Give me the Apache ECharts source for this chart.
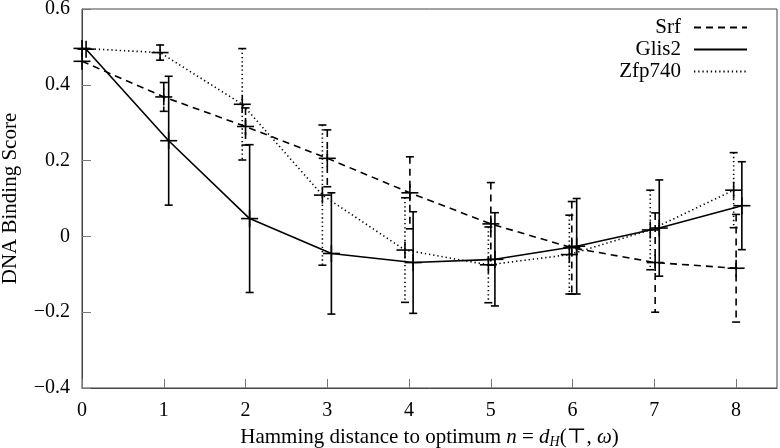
<!DOCTYPE html>
<html>
<head>
<meta charset="utf-8">
<script src="https://cdn.jsdelivr.net/npm/echarts@6/dist/echarts.min.js"></script>
<style>
html,body{margin:0;padding:0;background:#fff;}
#chart{width:780px;height:448px;}
</style>
</head>
<body>
<div id="chart"></div>
<script>
// ---- data ----
const seriesNames = ['Srf', 'Glis2', 'Zfp740'];
const xTicks = [0, 1, 2, 3, 4, 5, 6, 7, 8];
const yTicks = [-0.4, -0.2, 0, 0.2, 0.4, 0.6];

const srfX    = [0, 1, 2, 3, 4.01, 5, 5.99, 7.01, 8];
const srfMean = [0.462, 0.368, 0.290, 0.206, 0.115, 0.033, -0.030, -0.069, -0.084];
const srfErr  = [0, 0.038, 0.049, 0.075, 0.095, 0.109, 0.122, 0.131, 0.142];

const glisX    = [0.05, 1.06, 2.05, 3.05, 4.05, 5.05, 6.05, 7.06, 8.07];
const glisMean = [0.494, 0.2525, 0.047, -0.045, -0.069, -0.0605, -0.026, 0.022, 0.081];
const glisErr  = [0, 0.170, 0.195, 0.160, 0.134, 0.123, 0.126, 0.127, 0.116];

const zfpX    = [0, 0.955, 1.96, 2.94, 3.95, 4.97, 5.96, 6.95, 7.97];
const zfpMean = [0.496, 0.485, 0.3486, 0.109, -0.036, -0.075, -0.048, 0.017, 0.122];
const zfpErr  = [0, 0.020, 0.147, 0.185, 0.138, 0.100, 0.104, 0.105, 0.099];

// ---- styling ----
const FONT = '"Liberation Serif", "DejaVu Serif", serif';
const LW = 1.6;
const dashes = { Srf: [7, 5], Glis2: null, Zfp740: [1.3, 2.9] };

function pts(xs, ys) { return xs.map((x, i) => [x, ys[i]]); }
function errPts(xs, ys, es) { return xs.map((x, i) => [x, ys[i], es[i]]); }

function makeRender(dash) {
  return function (params, api) {
    const x = api.value(0), m = api.value(1), e = api.value(2);
    const c = api.coord([x, m]);
    const children = [];
    const solid = { stroke: '#000', lineWidth: LW, fill: null };
    if (e > 0) {
      const t = api.coord([x, m + e]);
      const b = api.coord([x, m - e]);
      children.push({ type: 'line', shape: { x1: c[0], y1: t[1], x2: c[0], y2: b[1] },
        style: { stroke: '#000', lineWidth: LW, lineDash: dash || null, fill: null } });
      children.push({ type: 'line', shape: { x1: c[0] - 4, y1: t[1], x2: c[0] + 4, y2: t[1] }, style: solid });
      children.push({ type: 'line', shape: { x1: c[0] - 4, y1: b[1], x2: c[0] + 4, y2: b[1] }, style: solid });
    }
    children.push({ type: 'line', shape: { x1: c[0] - 8.5, y1: c[1], x2: c[0] + 8.5, y2: c[1] }, style: solid });
    children.push({ type: 'line', shape: { x1: c[0], y1: c[1] - 8.5, x2: c[0], y2: c[1] + 8.5 }, style: solid });
    return { type: 'group', children: children };
  };
}

const groups = [
  { name: 'Srf', x: srfX, m: srfMean, e: srfErr },
  { name: 'Glis2', x: glisX, m: glisMean, e: glisErr },
  { name: 'Zfp740', x: zfpX, m: zfpMean, e: zfpErr }
];

const series = [];
groups.forEach(g => {
  series.push({
    name: g.name, type: 'line', symbol: 'none', showSymbol: false, data: pts(g.x, g.m),
    lineStyle: { color: '#000', width: LW, type: dashes[g.name] || 'solid' },
    itemStyle: { color: '#000' }, animation: false, z: 2
  });
  series.push({
    name: g.name + ' err', type: 'custom', data: errPts(g.x, g.m, g.e),
    renderItem: makeRender(dashes[g.name]), animation: false, z: 3
  });
});

function yFmt(v) {
  const r = Math.round(v * 10) / 10;
  if (Math.abs(r) < 1e-9) return '0';
  return (r < 0 ? '\u2212' : '') + Math.abs(r).toFixed(1);
}

const chart = echarts.init(document.getElementById('chart'), null, { renderer: 'canvas' });
chart.setOption({
  animation: false,
  backgroundColor: '#fff',
  grid: { left: 82, right: 3, top: 9, bottom: 60, containLabel: false, outerBoundsMode: 'none',
    show: true, borderColor: '#444', borderWidth: 1, backgroundColor: 'transparent' },
  legend: {
    data: seriesNames, orient: 'vertical', align: 'right', right: 32, top: 17,
    itemWidth: 53, itemHeight: 14, itemGap: 1, padding: 0,
    itemStyle: { opacity: 0 },
    textStyle: { fontFamily: FONT, fontSize: 21, color: '#000', lineHeight: 21, padding: [0, 8, 0, 0] }
  },
  xAxis: {
    type: 'value', min: 0, max: 8.5, interval: 1,
    name: 'Hamming distance to optimum {i|n} = {i|d}{sub|H}(\u22A4, {i|\u03C9})',
    nameLocation: 'middle', nameGap: 38,
    nameTextStyle: {
      fontFamily: FONT, fontSize: 21, color: '#000',
      rich: {
        i: { fontFamily: FONT, fontSize: 21, fontStyle: 'italic', color: '#000' },
        sub: { fontFamily: FONT, fontSize: 14, fontStyle: 'italic', color: '#000', verticalAlign: 'bottom', padding: [9, 0, 0, 0] }
      }
    },
    axisLine: { onZero: false, lineStyle: { color: '#444', width: 1 } },
    axisTick: { inside: true, length: 9, lineStyle: { color: '#777' } },
    splitLine: { show: false },
    axisLabel: {
      margin: 13, fontFamily: FONT, fontSize: 20, color: '#000', showMaxLabel: false,
      formatter: v => (xTicks.indexOf(v) >= 0 ? String(v) : '')
    }
  },
  yAxis: {
    type: 'value', min: yTicks[0], max: yTicks[yTicks.length - 1], interval: 0.2,
    name: 'DNA Binding Score', nameLocation: 'middle', nameGap: 61, nameRotate: 90,
    nameTextStyle: { fontFamily: FONT, fontSize: 21, color: '#000' },
    axisLine: { show: true, onZero: false, lineStyle: { color: '#444', width: 1 } },
    axisTick: { show: true, inside: true, length: 9, lineStyle: { color: '#777' } },
    splitLine: { show: false },
    axisLabel: { margin: 12, fontFamily: FONT, fontSize: 20, color: '#000', formatter: yFmt }
  },
  series: series
});
</script>
</body>
</html>
